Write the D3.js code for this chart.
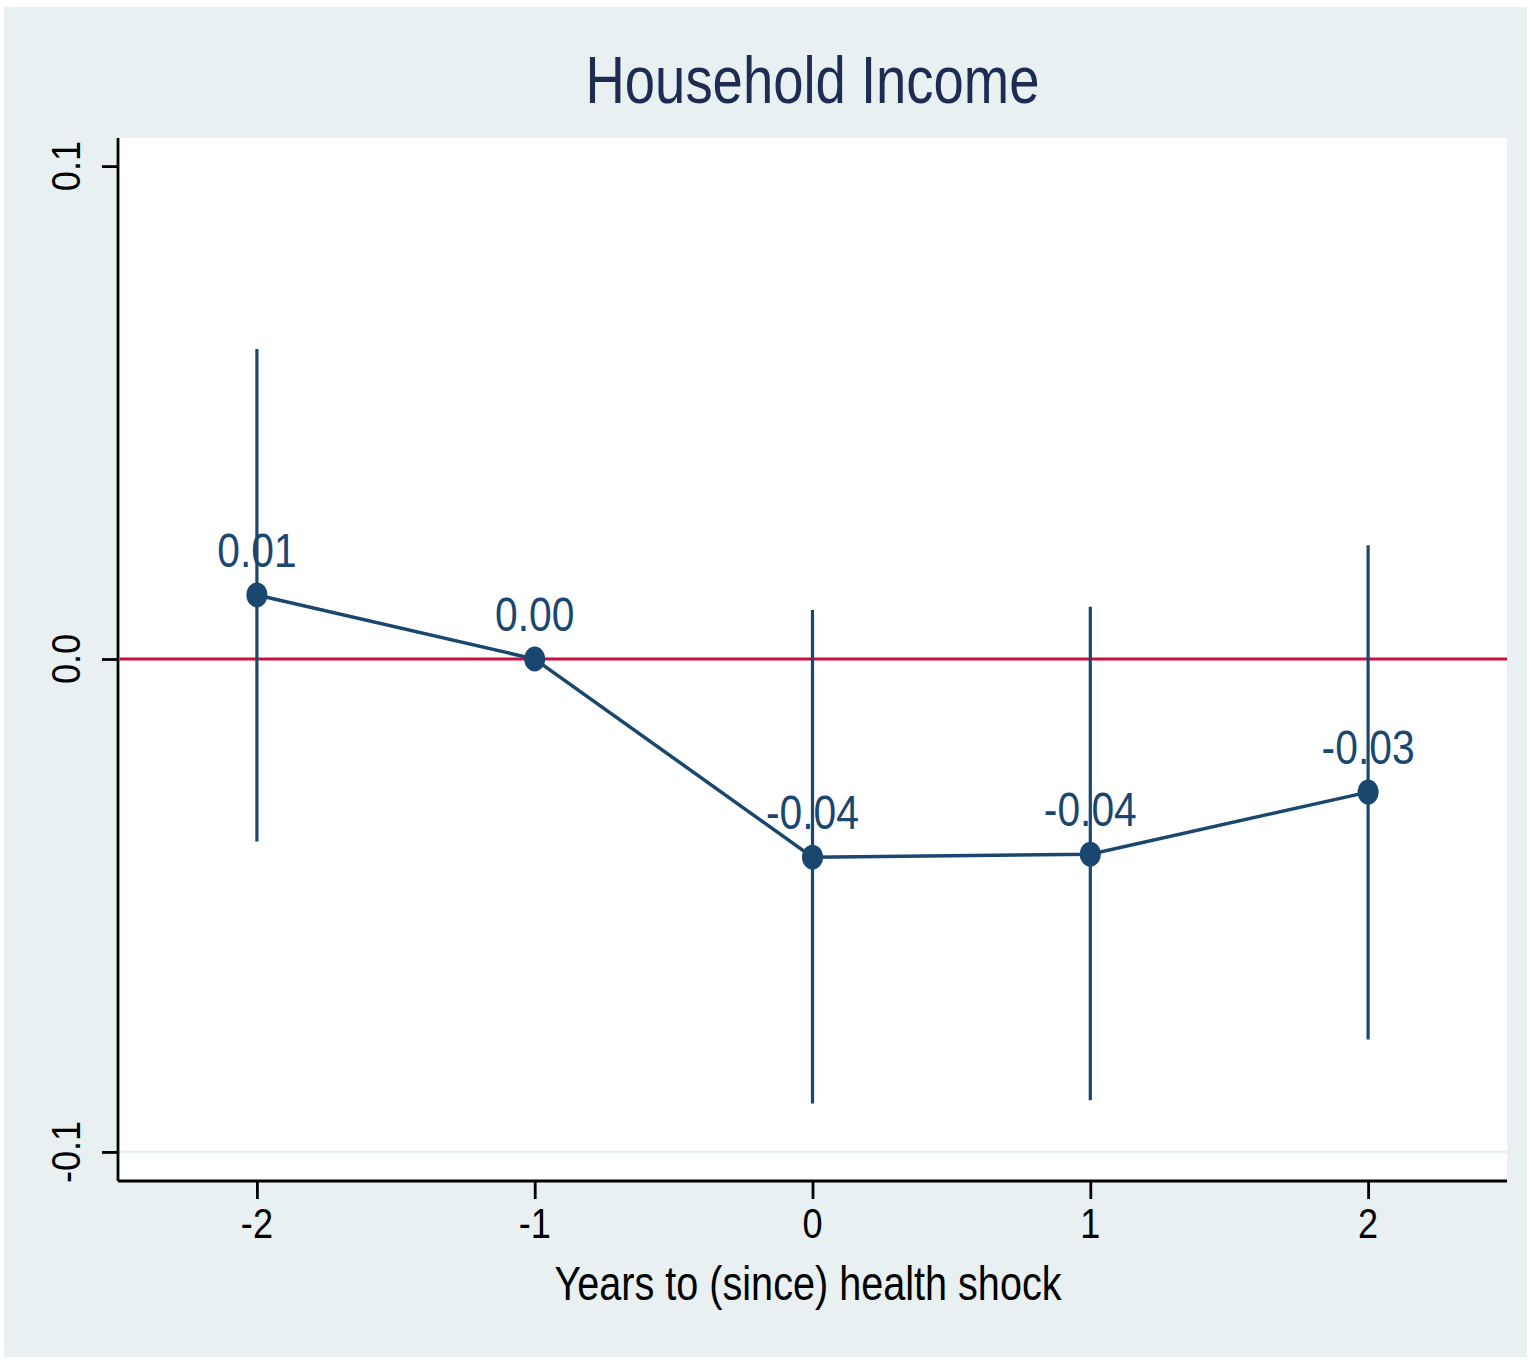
<!DOCTYPE html>
<html>
<head>
<meta charset="utf-8">
<script src="https://cdn.jsdelivr.net/npm/d3@7"></script>
<style>
  html, body { margin: 0; padding: 0; background: #ffffff; }
  svg { display: block; }
  text { font-family: "Liberation Sans", Arial, Helvetica, sans-serif; }
</style>
</head>
<body>
<script>
// Event-study estimates: household income around a health shock
const years   = [-2, -1, 0, 1, 2];
const coef    = [0.013, 0.0, -0.0402, -0.0396, -0.027];
const ciLow   = [-0.037, 0.0, -0.0902, -0.0895, -0.0772];
const ciHigh  = [0.0629, 0.0, 0.00995, 0.0106, 0.0231];
const xTicks  = [-2, -1, 0, 1, 2];
const yTicks  = [-0.1, 0.0, 0.1];
const titleText = "Household Income";
const xTitle    = "Years to (since) health shock";

const W = 1531, H = 1361;
const plot = { left: 118, right: 1507, top: 138, bottom: 1181 };
const sx = 0.84; // horizontal squeeze applied to glyphs

const navy = "#1a476f", red = "#c8103c", bg = "#e8f0f2";

// plain hyphen-minus instead of the typographic minus
const hy = (f) => (v) => f(v).replace("\u2212", "-");
const fmt1 = hy(d3.format(".1f"));
const fmt2 = hy(d3.format(".2f"));

const svg = d3.select("body").append("svg")
  .attr("width", W).attr("height", H);

svg.append("rect").attr("x", 0).attr("y", 0).attr("width", W).attr("height", H).attr("fill", "#ffffff");
svg.append("rect").attr("x", 4).attr("y", 7).attr("width", W - 8).attr("height", H - 11).attr("fill", bg);
svg.append("rect")
  .attr("x", plot.left).attr("y", plot.top)
  .attr("width", plot.right - plot.left).attr("height", plot.bottom - plot.top)
  .attr("fill", "#ffffff");

const x = d3.scaleLinear().domain([-2.5, 2.5]).range([plot.left, plot.right]);
const y = d3.scaleLinear().domain([-0.1059, 0.1057]).range([plot.bottom, plot.top]);

// squeezed text helper
function label(g, px, py, str, opts) {
  return g.append("text")
    .attr("transform", `translate(${px},${py}) scale(${opts.sx ?? sx},1)`)
    .attr("text-anchor", opts.anchor || "middle")
    .attr("font-size", opts.size)
    .attr("fill", opts.fill || "#000")
    .text(str);
}

// gridline at the lowest label only (the top label sits at the region edge)
svg.append("line")
  .attr("x1", plot.left).attr("x2", plot.right)
  .attr("y1", y(-0.1)).attr("y2", y(-0.1))
  .attr("stroke", bg).attr("stroke-width", 2.5);

// y axis
const yAxis = d3.axisLeft(y).tickValues(yTicks).tickSize(16).tickFormat("");
const gy = svg.append("g").attr("transform", `translate(${plot.left},0)`).call(yAxis);
gy.select(".domain").attr("stroke", "#000").attr("stroke-width", 2.8)
  .attr("d", `M0,${plot.top}V${plot.bottom}`);
gy.selectAll(".tick line").attr("stroke", "#000").attr("stroke-width", 2.8);
yTicks.forEach(v => {
  svg.append("text")
    .attr("transform", `translate(80,${y(v)}) rotate(-90) scale(0.88,1)`)
    .attr("text-anchor", "middle")
    .attr("font-size", 41)
    .attr("fill", "#000")
    .text(fmt1(v));
});

// x axis
const xAxis = d3.axisBottom(x).tickValues(xTicks).tickSize(18).tickFormat("");
const gx = svg.append("g").attr("transform", `translate(0,${plot.bottom})`).call(xAxis);
gx.select(".domain").attr("stroke", "#000").attr("stroke-width", 2.8)
  .attr("d", `M${plot.left},0H${plot.right}`);
gx.selectAll(".tick line").attr("stroke", "#000").attr("stroke-width", 2.8);
xTicks.forEach(v => label(svg, x(v), 1238, String(v), { size: 43 }));

// reference line at zero
svg.append("line")
  .attr("x1", plot.left + 1.5).attr("x2", plot.right)
  .attr("y1", y(0)).attr("y2", y(0))
  .attr("stroke", red).attr("stroke-width", 3.2);

// confidence intervals
svg.append("g").selectAll("line").data(years).join("line")
  .attr("x1", (d) => x(d)).attr("x2", (d) => x(d))
  .attr("y1", (d, i) => y(ciLow[i])).attr("y2", (d, i) => y(ciHigh[i]))
  .attr("stroke", navy).attr("stroke-width", 3.2);

// connected point estimates
const pts = years.map((d, i) => [x(d), y(coef[i])]);
svg.append("path")
  .attr("d", d3.line()(pts))
  .attr("fill", "none").attr("stroke", navy).attr("stroke-width", 3.5);

svg.append("g").selectAll("ellipse").data(pts).join("ellipse")
  .attr("cx", (d) => d[0]).attr("cy", (d) => d[1])
  .attr("rx", 10.5).attr("ry", 12.5)
  .attr("fill", navy);

// value labels
years.forEach((d, i) => {
  label(svg, x(d), y(coef[i]) - 28, fmt2(coef[i]), { size: 48, fill: navy, sx: 0.85 });
});

// titles
label(svg, (plot.left + plot.right) / 2, 103, titleText, { size: 66, fill: "#1f2c52", sx: 0.825 });
label(svg, 808, 1300, xTitle, { size: 48, fill: "#000", sx: 0.825 });
</script>
</body>
</html>
